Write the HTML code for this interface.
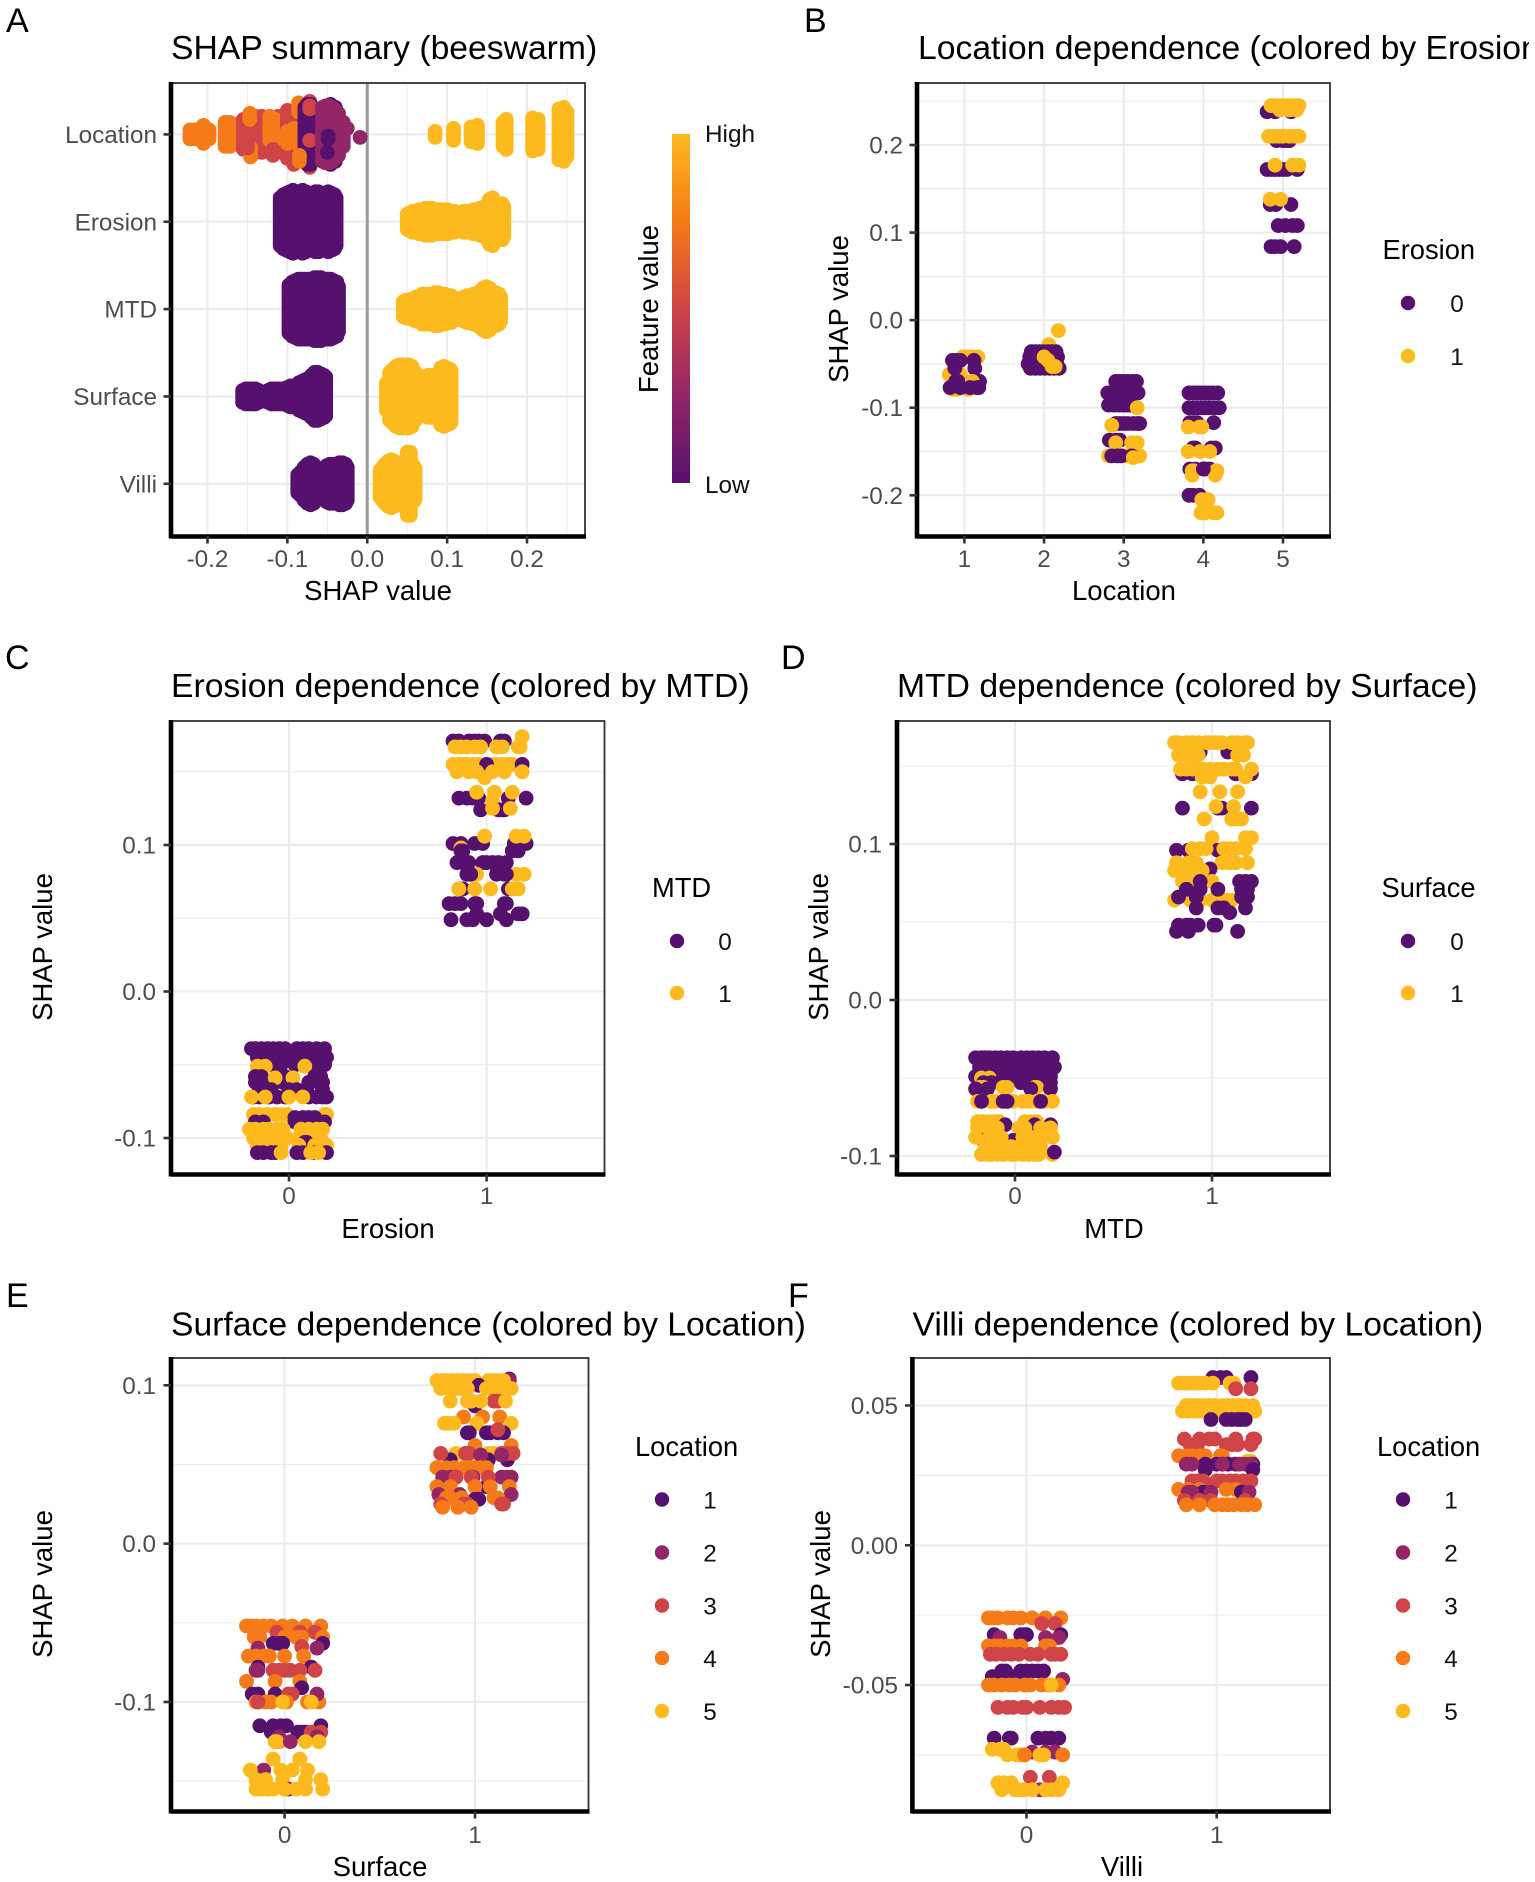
<!DOCTYPE html>
<html lang="en">
<head>
<meta charset="utf-8">
<title>SHAP summary and dependence plots</title>
<style>
html,body{margin:0;padding:0;background:#fff;}
#figure{display:block;width:1535px;height:1882px;overflow:hidden;font-family:"Liberation Sans",Arial,sans-serif;}
.letter{font-size:34px;fill:#000;}
.ptitle{font-size:33.7px;fill:#000;}
.atitle{font-size:27.5px;fill:#000;}
.ltitle{font-size:27.3px;fill:#000;}
.llabel{font-size:24.3px;fill:#111;text-anchor:middle;}
.ticklabel{font-size:24.3px;fill:#4D4D4D;}
</style>
</head>
<body>
<svg id="figure" xmlns="http://www.w3.org/2000/svg" width="1535" height="1882" viewBox="0 0 1535 1882">
  <defs>
    <linearGradient id="feature-gradient" x1="0" y1="1" x2="0" y2="0">
      <stop offset="0" stop-color="#56106E"/>
      <stop offset="0.25" stop-color="#932667"/>
      <stop offset="0.5" stop-color="#CF4446"/>
      <stop offset="0.75" stop-color="#F57A18"/>
      <stop offset="1" stop-color="#FCBA1F"/>
    </linearGradient>
    <clipPath id="title-b-clip"><rect x="900" y="0" width="629" height="80"/></clipPath>
  </defs>
  <rect x="0" y="0" width="1535" height="1882" fill="#fff"/>

  <g id="panel-a"></g>
  <g id="panel-b"></g>
  <g id="panel-c"></g>
  <g id="panel-d"></g>
  <g id="panel-e"></g>
  <g id="panel-f"></g>

  <text class="letter" x="6" y="32">A</text>
  <text class="letter" x="804" y="32">B</text>
  <text class="letter" x="5" y="669">C</text>
  <text class="letter" x="781" y="669">D</text>
  <text class="letter" x="6" y="1307">E</text>
  <text class="letter" x="788" y="1307">F</text>

  <text class="ptitle" x="171" y="59">SHAP summary (beeswarm)</text>
  <text class="ptitle" x="918" y="59" clip-path="url(#title-b-clip)">Location dependence (colored by Erosion)</text>
  <text class="ptitle" x="171" y="697">Erosion dependence (colored by MTD)</text>
  <text class="ptitle" x="897" y="697">MTD dependence (colored by Surface)</text>
  <text class="ptitle" x="171" y="1335.5">Surface dependence (colored by Location)</text>
  <text class="ptitle" x="912.5" y="1335.5">Villi dependence (colored by Location)</text>

  <text class="atitle" x="378" y="600" text-anchor="middle">SHAP value</text>
  <text class="atitle" x="1124" y="600" text-anchor="middle">Location</text>
  <text class="atitle" x="388" y="1238" text-anchor="middle">Erosion</text>
  <text class="atitle" x="1114" y="1238" text-anchor="middle">MTD</text>
  <text class="atitle" x="380" y="1876" text-anchor="middle">Surface</text>
  <text class="atitle" x="1122" y="1876" text-anchor="middle">Villi</text>

  <text class="atitle" transform="translate(848,309) rotate(-90)" text-anchor="middle">SHAP value</text>
  <text class="atitle" transform="translate(52,947) rotate(-90)" text-anchor="middle">SHAP value</text>
  <text class="atitle" transform="translate(828,947) rotate(-90)" text-anchor="middle">SHAP value</text>
  <text class="atitle" transform="translate(52,1584) rotate(-90)" text-anchor="middle">SHAP value</text>
  <text class="atitle" transform="translate(830,1584) rotate(-90)" text-anchor="middle">SHAP value</text>

  <g>
    <text class="atitle" transform="translate(658,309) rotate(-90)" text-anchor="middle">Feature value</text>
    <rect x="672" y="134" width="18" height="349" fill="url(#feature-gradient)"/>
    <text class="llabel" x="705" y="142" style="text-anchor:start">High</text>
    <text class="llabel" x="705" y="493" style="text-anchor:start">Low</text>
  </g>

  <g>
    <text class="ltitle" x="1382.5" y="259">Erosion</text>
    <circle cx="1408" cy="303" r="7.2" fill="#56106E"/>
    <text class="llabel" x="1457" y="312">0</text>
    <circle cx="1408" cy="356" r="7.2" fill="#FCBA1F"/>
    <text class="llabel" x="1457" y="365">1</text>
  </g>
  <g>
    <text class="ltitle" x="652" y="897">MTD</text>
    <circle cx="677" cy="941" r="7.2" fill="#56106E"/>
    <text class="llabel" x="725" y="950">0</text>
    <circle cx="677" cy="993" r="7.2" fill="#FCBA1F"/>
    <text class="llabel" x="725" y="1002">1</text>
  </g>
  <g>
    <text class="ltitle" x="1381.5" y="897">Surface</text>
    <circle cx="1408" cy="941" r="7.2" fill="#56106E"/>
    <text class="llabel" x="1457" y="950">0</text>
    <circle cx="1408" cy="993" r="7.2" fill="#FCBA1F"/>
    <text class="llabel" x="1457" y="1002">1</text>
  </g>
  <g>
    <text class="ltitle" x="635" y="1456">Location</text>
    <circle cx="662" cy="1499.5" r="7.2" fill="#56106E"/>
    <text class="llabel" x="710" y="1508.5">1</text>
    <circle cx="662" cy="1552.5" r="7.2" fill="#932667"/>
    <text class="llabel" x="710" y="1561.5">2</text>
    <circle cx="662" cy="1605.5" r="7.2" fill="#CF4446"/>
    <text class="llabel" x="710" y="1614.5">3</text>
    <circle cx="662" cy="1658" r="7.2" fill="#F57A18"/>
    <text class="llabel" x="710" y="1667">4</text>
    <circle cx="662" cy="1711" r="7.2" fill="#FCBA1F"/>
    <text class="llabel" x="710" y="1720">5</text>
  </g>
  <g>
    <text class="ltitle" x="1377" y="1456">Location</text>
    <circle cx="1403" cy="1499.5" r="7.2" fill="#56106E"/>
    <text class="llabel" x="1451" y="1508.5">1</text>
    <circle cx="1403" cy="1552.5" r="7.2" fill="#932667"/>
    <text class="llabel" x="1451" y="1561.5">2</text>
    <circle cx="1403" cy="1605.5" r="7.2" fill="#CF4446"/>
    <text class="llabel" x="1451" y="1614.5">3</text>
    <circle cx="1403" cy="1658" r="7.2" fill="#F57A18"/>
    <text class="llabel" x="1451" y="1667">4</text>
    <circle cx="1403" cy="1711" r="7.2" fill="#FCBA1F"/>
    <text class="llabel" x="1451" y="1720">5</text>
  </g>
</svg>

<script>
/* ---------- Panel A data ---------- */
const beeswarmFeatures = ['Location','Erosion','MTD','Surface','Villi'];
const beeswarmXTicks = [-0.2,-0.1,0,0.1,0.2];
const beeswarmXLabels = ['-0.2','-0.1','0.0','0.1','0.2'];
const beeswarmXMinor = [-0.15,-0.05,0.05,0.15,0.25];

/* each entry: SHAP value, number of stacked points, location level, stack shift */
const locationSwarm = [
 [-0.222,4,4,0],[-0.215,4,4,0],[-0.205,7,4,0],[-0.198,4,4,0],
 [-0.178,9,4,0],[-0.172,9,4,0],[-0.168,8,4,0],
 [-0.155,11,3,0],[-0.148,11,3,0],[-0.14,13,3,0],[-0.132,13,3,0],
 [-0.147,3,4,-6],[-0.146,4,4,6],[-0.15,2,3,4],
 [-0.122,13,3,0],[-0.112,13,3,0],[-0.122,9,4,-2],[-0.115,9,4,-1],[-0.118,3,3,6],
 [-0.1,17,3,0],[-0.092,15,3,3],[-0.1,5,4,1],[-0.092,5,4,0],
 [-0.086,4,4,-9],[-0.086,4,4,2],
 [-0.072,1,3,-11],[-0.072,1,3,11],
 [-0.078,19,1,0],[-0.075,21,1,0],[-0.071,21,1,0],
 [-0.072,2,3,-9],[-0.072,1,3,2],[-0.085,3,4,8],
 [-0.046,21,1,0],[-0.04,19,1,0],
 [-0.056,19,2,0],[-0.052,20,2,0],[-0.048,20,2,0],[-0.044,19,2,0],[-0.04,17,2,0],[-0.036,15,2,0],[-0.03,9,2,0],
 [-0.049,2,1,1],[-0.05,1,1,6],[-0.025,1,2,-2],[-0.009,1,2,1],
 [0.085,3,5,0],[0.108,5,5,0],[0.13,6,5,0],[0.138,7,5,0],[0.174,11,5,0],[0.17,9,5,0],
 [0.207,12,5,0],[0.214,11,5,0],[0.24,18,5,0],[0.246,19,5,0],[0.25,16,5,0]
];
const erosionLowValues = [-0.109,-0.105,-0.101,-0.097,-0.093,-0.089,-0.085,-0.081,-0.077,-0.073,-0.069,-0.065,-0.061,-0.057,-0.053,-0.049,-0.045,-0.041,-0.039];
const erosionLowCounts = [17,19,20,21,22,21,21,22,21,20,20,21,21,20,20,21,20,19,17];
const erosionHighValues = [0.05,0.053,0.057,0.061,0.065,0.069,0.073,0.077,0.081,0.085,0.089,0.093,0.097,0.101,0.105,0.109,0.113,0.117,0.121,0.125,0.129,0.133,0.137,0.141,0.145,0.149,0.153,0.157,0.161,0.165,0.169,0.171];
const erosionHighCounts = [6,7,8,8,9,9,10,10,10,9,9,9,9,9,8,8,6,7,8,8,8,9,9,10,10,12,16,17,14,13,13,11];
const mtdLowValues = [-0.098,-0.094,-0.09,-0.086,-0.082,-0.078,-0.074,-0.07,-0.066,-0.062,-0.058,-0.054,-0.05,-0.046,-0.042,-0.038,-0.036];
const mtdLowCounts = [17,19,20,21,21,21,21,21,22,22,22,21,21,21,20,19,16];
const mtdHighValues = [0.045,0.049,0.053,0.057,0.061,0.065,0.069,0.073,0.077,0.081,0.085,0.089,0.093,0.097,0.101,0.105,0.109,0.113,0.117,0.121,0.125,0.129,0.133,0.137,0.141,0.145,0.149,0.153,0.157,0.161,0.165,0.167];
const mtdHighCounts = [6,7,7,8,9,9,11,11,11,11,12,12,11,11,10,10,8,8,8,9,10,10,11,11,13,15,16,15,12,12,11,9];
const surfaceLowValues = [-0.156,-0.152,-0.148,-0.144,-0.14,-0.136,-0.13,-0.124,-0.12,-0.116,-0.112,-0.108,-0.104,-0.1,-0.096,-0.09,-0.086,-0.082,-0.078,-0.074,-0.07,-0.066,-0.062,-0.058,-0.054,-0.052];
const surfaceLowCounts = [5,6,6,6,6,5,4,5,6,6,6,6,6,7,8,8,10,11,12,13,15,17,17,16,15,14];
const surfaceHighValues = [0.024,0.028,0.032,0.036,0.04,0.044,0.048,0.052,0.056,0.06,0.064,0.068,0.072,0.076,0.08,0.084,0.088,0.092,0.096,0.1,0.104,0.105];
const surfaceHighCounts = [10,17,19,21,22,22,22,22,21,17,14,14,14,15,15,14,16,20,21,20,19,18];
const villiLowValues = [-0.087,-0.083,-0.079,-0.075,-0.071,-0.067,-0.063,-0.059,-0.055,-0.051,-0.047,-0.043,-0.039,-0.035,-0.031,-0.027,-0.025];
const villiLowCounts = [7,9,12,14,15,14,9,7,8,13,14,14,14,15,15,14,12];
const villiHighValues = [0.016,0.019,0.022,0.026,0.03,0.034,0.038,0.042,0.046,0.05,0.054,0.058,0.06];
const villiHighCounts = [10,12,14,16,17,16,14,14,16,22,22,13,11];

/* ---------- Panel B data: each row is SHAP value, colour level (0/1), horizontal jitter values ---------- */
const locationTicks = [1,2,3,4,5];
const locationYTicks = [-0.2,-0.1,0,0.1,0.2];
const locationYLabels = ['-0.2','-0.1','0.0','0.1','0.2'];
const locationYMinor = [-0.15,-0.05,0.05,0.15,0.25];
const loc1Rows = [
 [-0.042,1,[-0.02,0.03,0.09,0.17]],[-0.046,0,[-0.15,-0.1,-0.05,0.12]],[-0.062,1,[-0.19,-0.1,-0.05]],
 [-0.055,0,[0.13,-0.12]],[-0.07,0,[-0.11,-0.08,0.1,0.16,0.19]],[-0.07,1,[0.1]],
 [-0.079,1,[-0.14,-0.09,0.05]],[-0.077,0,[-0.18,-0.05,0.07,0.16,0.18]]
];
const loc2Rows = [
 [-0.012,1,[0.18]],[-0.028,1,[0.06]],
 [-0.036,0,[-0.16,-0.11,-0.06,-0.01,0.05,0.1,0.15]],[-0.042,0,[-0.18,-0.12,-0.06,0,0.06,0.12,0.17]],
 [-0.05,0,[-0.2,-0.14,-0.08,-0.02,0.04,0.1,0.16]],[-0.055,0,[-0.17,-0.11,-0.05,0.01,0.07,0.13,0.19]],
 [-0.042,1,[0]],[-0.046,1,[0.05]],[-0.053,1,[0.1,0.14]]
];
const loc3Rows = [
 [-0.07,0,[-0.1,-0.05,0,0.05,0.11,0.16]],[-0.083,0,[-0.2,-0.15,-0.08,-0.02,0.03,0.08,0.13,0.18]],
 [-0.097,0,[-0.19,-0.12,-0.06,0,0.05,0.1]],[-0.1,1,[0.17]],
 [-0.118,0,[-0.1,-0.05,0,0.05,0.12,0.17,0.2]],[-0.12,1,[-0.15]],
 [-0.137,0,[-0.18,-0.1,-0.05]],[-0.14,1,[-0.1,0.1,0.17]],
 [-0.155,1,[-0.19,-0.17,0.12,0.2,0.02]],[-0.155,0,[-0.15,-0.08,-0.03,0.1]],[-0.157,1,[0.12]]
];
const loc4Rows = [
 [-0.083,0,[-0.18,-0.13,-0.08,-0.03,0.02,0.07,0.12,0.18]],[-0.1,0,[-0.18,-0.12,-0.07,-0.02,0.03,0.08,0.14,0.2]],
 [-0.117,0,[-0.17,-0.13,-0.08,0.13]],[-0.122,1,[-0.19,-0.05,-0.02]],
 [-0.146,0,[-0.13,-0.1,0.1,0.15]],[-0.15,1,[-0.19,-0.04,0.08]],
 [-0.17,0,[-0.17,-0.1,0,0.03,0.08]],[-0.172,1,[-0.14,-0.12,0.17,0.16]],[-0.177,1,[0.15,-0.14]],[-0.17,0,[0]],
 [-0.2,0,[-0.18,-0.13,-0.05]],[-0.205,1,[0.05,0.06,-0.02]],[-0.22,1,[-0.03,0.02,0.13,0.17]]
];
const loc5Rows = [
 [0.084,0,[-0.15,-0.1,-0.03,0.14]],[0.108,0,[-0.06,0.03,0.12,0.18]],[0.132,0,[-0.16,-0.09,0.1]],
 [0.138,1,[-0.16,-0.03]],[0.172,0,[-0.2,-0.15,-0.1,-0.05,0,0.05,0.18]],[0.177,1,[-0.1,0.12,0.2]],
 [0.205,0,[-0.08,0,0.05,0.08]],[0.21,1,[-0.18,-0.12,-0.05,0,0.08,0.14,0.18,0.2]],
 [0.238,0,[-0.2,-0.1,0.1]],[0.245,1,[-0.15,-0.1,-0.05,0,0.05,0.1,0.15,0.2]],[0.24,1,[0.08,0.17,-0.04]]
];

/* ---------- Panel C data ---------- */
const binaryTicks = [0,1];
const erosionYTicks = [-0.1,0,0.1];
const erosionYLabels = ['-0.1','0.0','0.1'];
const erosionYMinor = [-0.05,0.05,0.15];
const erosion0Rows = [
 [-0.039,0,[-0.19,-0.17,-0.14,-0.11,-0.08,-0.05,-0.02,0.04,0.07,0.1,0.14,0.18]],
 [-0.045,0,[-0.16,-0.12,-0.09,-0.06,-0.02,0.02,0.06,0.1,0.13,0.17,0.19]],
 [-0.05,0,[-0.1,-0.07,-0.04,0.03,0.09,0.12,0.15,0.18]],[-0.051,1,[-0.16,-0.12,0.08]],
 [-0.058,0,[-0.17,-0.14,-0.05,-0.02,0.13,0.16]],[-0.062,0,[-0.17,-0.13,-0.09,-0.03,0.1,0.15,0.17]],
 [-0.059,1,[-0.07,0.02]],[-0.067,0,[-0.15,-0.12,-0.09,0,0.04,0.09,0.17]],
 [-0.072,0,[-0.18,-0.15,-0.1,-0.06,-0.02,0.1,0.14,0.19,0.17]],[-0.072,1,[-0.19,-0.12,0,0.07]],
 [-0.084,1,[-0.18,-0.15,-0.11,-0.07,-0.04,-0.01,0.18,0.19]],[-0.086,0,[0.03,0.07,0.1,0.13]],
 [-0.089,0,[-0.17,-0.13,0.03,0.06,0.1,0.14,0.18]],
 [-0.094,1,[-0.2,-0.17,-0.13,-0.1,-0.06,-0.03,0.06,0.1,0.14,0.17]],
 [-0.1,1,[-0.18,-0.15,-0.12,-0.08,-0.04,-0.01,0.05,0.09,0.12,0.16]],[-0.103,0,[0.08,0.09]],
 [-0.105,1,[-0.16,-0.1,-0.06,-0.04,0.05,0.13,0.18,0.19]],
 [-0.11,0,[-0.16,-0.13,-0.09,-0.07,0.04,0.07,0.12,0.19]],[-0.11,1,[-0.04,0.11,0.15]]
];
const erosion1Rows = [
 [0.171,0,[-0.17,-0.14,-0.09,-0.06,-0.04,-0.01,0.07,0.09]],[0.174,1,[0.18]],
 [0.167,1,[-0.16,-0.13,-0.1,-0.06,-0.03,0.05,0.08,0.16,0.17]],
 [0.155,1,[-0.17,-0.14,-0.12,-0.1,-0.07,-0.04,0.03,0.05,0.08,0.11,0.13,0.18]],[0.155,0,[0,0.18]],
 [0.15,1,[-0.15,-0.09,-0.05,0.03,0.09,0.18]],[0.146,1,[-0.01]],
 [0.132,0,[-0.14,-0.1,-0.07,-0.04,0.11,0.2]],[0.136,1,[-0.05,0.04,0.13]],[0.13,1,[0.03]],
 [0.124,0,[-0.03,0.06,0.08,0.09]],[0.125,1,[0.03,0.12]],
 [0.101,0,[-0.17,-0.13,-0.06,-0.02,0.14,0.17,0.2]],[0.106,1,[-0.01,0.15,0.19]],[0.098,1,[-0.13]],
 [0.096,0,[-0.13,-0.12,0.13,0.16]],[0.088,0,[-0.15,-0.12,-0.09,-0.02,0,0.03,0.06,0.1]],
 [0.08,1,[-0.05,0.15,0.19]],[0.08,0,[-0.1,-0.08,0.05,0.09,0.1]],
 [0.07,0,[-0.14,-0.12,0.11]],[0.07,1,[-0.14,-0.06,0.02,0.13,0.16]],
 [0.06,0,[-0.19,-0.16,-0.13,-0.06,-0.05,0.09,0.1]],[0.053,0,[-0.05,0.07,0.16,0.18]],
 [0.049,0,[-0.18,-0.1,-0.07,0,0.1]]
];

/* ---------- Panel D data ---------- */
const mtdYTicks = [-0.1,0,0.1];
const mtdYLabels = ['-0.1','0.0','0.1'];
const mtdYMinor = [-0.05,0.05,0.15];
const mtd0Rows = [
 [-0.037,0,[-0.2,-0.17,-0.15,-0.13,-0.1,-0.07,-0.04,-0.01,0.03,0.06,0.09,0.12,0.15,0.19]],
 [-0.043,0,[-0.18,-0.15,-0.12,-0.09,-0.06,-0.03,0,0.04,0.07,0.1,0.13,0.16,0.2]],
 [-0.049,0,[-0.2,-0.17,-0.14,-0.1,-0.07,-0.04,-0.01,0.02,0.08,0.12,0.16,0.18]],[-0.05,1,[-0.17,-0.13]],
 [-0.053,0,[-0.16,-0.12,-0.08,-0.05,0.18,0.16,0.03]],
 [-0.056,1,[-0.18,-0.16,-0.06,-0.04,0.1,0.11]],[-0.057,0,[-0.2,-0.14,0.08,0.18]],
 [-0.065,1,[-0.19,-0.12,-0.1,-0.04,-0.01,0.04,0.07,0.11,0.15,0.19]],[-0.065,0,[-0.17,-0.06,-0.04,0.13]],
 [-0.078,1,[-0.19,-0.16,-0.13,-0.1,-0.08,0.05,0.08,0.11]],[-0.08,0,[-0.05,0.18,0.1]],
 [-0.082,1,[-0.19,-0.16,-0.12,-0.09,0.02,0.05,0.13,0.18]],[-0.09,0,[-0.16,-0.01]],
 [-0.088,1,[-0.2,-0.13,-0.1,-0.07,0.04,0.08,0.11,0.14,0.19]],
 [-0.094,1,[-0.15,-0.12,-0.08,-0.02,0.02,0.06,0.1,0.13]],
 [-0.099,1,[-0.17,-0.14,-0.12,-0.09,-0.06,-0.02,0,0.04,0.07,0.1,0.12,0.19]],[-0.0975,0,[0.2]]
];
const mtd1Rows = [
 [0.159,0,[-0.06,0.08]],[0.165,1,[-0.19,-0.17,-0.13,-0.1,-0.07,-0.03,-0.01,0.02,0.05,0.1,0.13,0.18,0.17]],
 [0.157,1,[-0.17,-0.13,-0.1,-0.07,0.13,0.16]],[0.145,0,[-0.15,-0.1,-0.04,0.12,0.2]],
 [0.148,1,[-0.16,-0.13,-0.1,-0.07,-0.04,-0.01,0.03,0.06,0.1,0.12,0.2]],[0.143,1,[-0.05,-0.01,0.17]],
 [0.1335,1,[-0.06,0.04,0.13]],[0.123,0,[-0.15,0.03,0.05,0.2]],[0.124,1,[0.02,0.11]],
 [0.116,1,[-0.04,0.1,0.13,0.15]],[0.104,1,[0,0.17,0.2]],
 [0.096,0,[-0.18,-0.12,0.03]],[0.097,1,[-0.1,-0.06,-0.03,0.06,0.09,0.12,0.17]],
 [0.088,1,[-0.18,-0.12,-0.08,0.05,0.09,0.12,0.18]],[0.084,0,[-0.01]],
 [0.083,1,[-0.19,-0.16,-0.12,-0.09,-0.05]],[0.076,1,[-0.15,-0.12,0]],[0.076,0,[-0.06,0.14,0.17,0.2]],
 [0.064,1,[-0.19,-0.11,-0.06,0,0.07,0.1]],[0.071,0,[-0.13,-0.06,0.03,0.15,0.18]],
 [0.066,0,[-0.17,-0.08,0.15,0.18]],[0.059,0,[-0.08,0.03,0.06,0.17]],[0.056,0,[0.09]],
 [0.048,0,[-0.17,-0.13,-0.11,-0.07,0.01,0.02]],[0.044,0,[-0.18,-0.12,0.13]]
];

/* ---------- Panel E data: colour level is Location 1-5 ---------- */
const surfaceYTicks = [-0.1,0,0.1];
const surfaceYLabels = ['-0.1','0.0','0.1'];
const surfaceYMinor = [-0.15,-0.05,0.05];
const surface0Rows = [
 [-0.052,4,[-0.2,-0.18,-0.15,-0.11,-0.07,-0.01,0.04,0.11,0.19]],[-0.056,3,[-0.04,0.08,0.16]],
 [-0.059,4,[-0.16,-0.13,0,0.06,0.09,0.2]],[-0.063,1,[-0.06,-0.03,-0.01,0.2]],
 [-0.066,2,[-0.14,0.17]],[-0.065,3,[0.09]],[-0.071,4,[-0.19,-0.15,-0.11,-0.08,0,0.1]],
 [-0.078,1,[0.14,-0.14]],[-0.08,3,[-0.06,-0.03,0,0.03,0.08,0.16]],[-0.08,2,[-0.15,-0.14]],
 [-0.087,4,[-0.2,-0.05,0.08]],[-0.091,1,[0.09]],[-0.095,1,[-0.17,-0.14,-0.05]],[-0.095,3,[0.02,0.04]],
 [-0.1,4,[-0.15,-0.1,-0.07,0.01,0.12,0.18]],[-0.095,2,[0.17]],[-0.1,3,[-0.14]],[-0.1,5,[-0.01,0.14]],
 [-0.115,1,[-0.13,-0.06,-0.02,0.01,0.19]],[-0.119,1,[-0.07,0.07,0.09,0.11]],[-0.119,3,[0.14,0.19]],
 [-0.125,4,[-0.03]],[-0.122,2,[0.17,-0.03]],[-0.125,5,[-0.05,-0.04,0.11,0.18]],[-0.125,2,[0.03]],
 [-0.136,5,[-0.06,0.08]],[-0.143,2,[-0.11]],[-0.143,5,[-0.18,-0.02,0.04,0.12]],
 [-0.149,5,[-0.15,-0.1,-0.01,0.11,0.19]],[-0.155,2,[0.02]],[-0.155,5,[-0.15,-0.12,-0.09,-0.06,0,0.06,0.11,0.2]]
];
const surface1Rows = [
 [0.104,1,[0.18]],[0.103,2,[0.18]],
 [0.103,5,[-0.2,-0.17,-0.15,-0.12,-0.09,-0.06,-0.03,0,0.07,0.1,0.12,0.15]],[0.1,1,[0.02]],
 [0.098,5,[-0.18,-0.14,-0.1,-0.07,-0.04,0.06,0.09,0.13,0.19]],[0.09,3,[0.1,0.12]],
 [0.087,1,[0]],[0.09,5,[-0.13,-0.04,-0.02,0.03,0.16]],[0.08,4,[-0.06,0.04,0.13]],
 [0.076,5,[-0.16,-0.14,-0.11,0.01,0.19]],[0.07,1,[-0.04,-0.03,0.06,0.08,0.12,0.15]],[0.072,3,[0.12]],
 [0.062,4,[0,0.19]],[0.057,5,[-0.1,0.07,0.1]],[0.053,1,[-0.13,0.07,0.17]],
 [0.057,3,[-0.18,-0.05,-0.03,0.14,0.17,0.2]],[0.056,2,[0.03,0.14]],
 [0.048,4,[-0.2,-0.15,-0.11,-0.06,-0.03,0,0.03,0.06]],[0.036,1,[0.06]],
 [0.042,2,[-0.17,-0.13,-0.1,-0.01,0.14,0.17,0.19]],[0.042,3,[-0.1,-0.02,0.07]],
 [0.036,4,[-0.2,-0.13,0,0.08,0.18]],[0.031,2,[-0.19,-0.08,0.19]],[0.028,1,[0,0.02]],
 [0.029,4,[-0.15,-0.13,-0.07,0.1,0.12]],[0.025,3,[-0.18,-0.06,-0.04,0.14,0.15]],[0.023,4,[-0.17,-0.09,-0.02]]
];

/* ---------- Panel F data ---------- */
const villiYTicks = [-0.05,0,0.05];
const villiYLabels = ['-0.05','0.00','0.05'];
const villiYMinor = [-0.075,-0.025,0.025];
const villi0Rows = [
 [-0.026,4,[-0.2,-0.18,-0.15,-0.1,-0.07,-0.03,0.03,0.1,0.18]],[-0.028,3,[0.08,0.15]],
 [-0.032,1,[-0.17,-0.03,-0.01,0,0.18]],[-0.033,2,[-0.14,0.1,0.17]],
 [-0.036,4,[-0.2,-0.17,-0.14,-0.1,-0.07,-0.03,0.1,0.12]],
 [-0.039,3,[-0.19,-0.16,-0.12,-0.08,-0.04,0.02,0.06,0.13,0.15,0.18]],
 [-0.045,1,[-0.13,-0.11,-0.03,0,0.03,0.06,0.09]],[-0.047,1,[-0.18,-0.15,-0.06]],[-0.048,2,[0.19]],
 [-0.05,4,[-0.2,-0.17,-0.13,-0.09,-0.06,-0.01,0.02,0.08,0.12,0.17]],[-0.05,5,[0.13]],
 [-0.058,3,[-0.15,-0.1,-0.07,-0.02,0,0.07,0.13,0.17,0.2]],
 [-0.069,1,[-0.17,-0.09,-0.08,0.06,0.1,0.13,0.17]],[-0.074,2,[0.03,0.1,0.15]],
 [-0.073,5,[-0.18,-0.14,-0.12]],[-0.075,5,[-0.1,-0.05,-0.03,0.07,0.09]],[-0.075,4,[-0.01,0.19]],
 [-0.083,3,[0.02,0.12]],[-0.0875,2,[0.07]],[-0.085,5,[-0.15,-0.12,-0.08,0.19]],
 [-0.0875,5,[-0.13,-0.06,-0.03,-0.01,0.03,0.1,0.13,0.17]]
];
const villi1Rows = [
 [0.06,1,[-0.02,0.02,0.05,0.18]],[0.058,5,[-0.2,-0.17,-0.15,-0.12,-0.09,-0.06,-0.02,0.07,0.09]],
 [0.056,3,[0.1,0.18]],[0.05,5,[-0.16,-0.13,-0.1,-0.07,-0.04,-0.01,0.03,0.06,0.09,0.12,0.15,0.19]],
 [0.048,5,[-0.18,-0.15,-0.12,-0.09,-0.05,-0.02,0.02,0.05,0.1,0.13,0.17,0.2]],
 [0.045,1,[-0.03,0.05,0.08,0.11,0.13,0.15]],[0.038,3,[-0.17,-0.09,-0.04,-0.01,0.1,0.2,0.19]],
 [0.036,3,[-0.14,-0.1,0.05,0.08,0.11,0.18]],[0.032,4,[-0.2,-0.16,-0.13,-0.09,-0.06,0.02,0.03]],
 [0.03,5,[0.16,0.18]],[0.029,1,[-0.06,0,0.03,0.06,0.1,0.19]],[0.029,2,[-0.16,-0.13,0.03,0.12,0.15,0.18]],
 [0.027,1,[-0.06,0.19]],[0.023,3,[-0.13,-0.1,-0.07,0,0.03,0.07,0.1,0.14,0.18]],
 [0.02,4,[-0.2,-0.15,-0.09,0.05,0.1]],[0.019,1,[-0.07,0.13]],[0.019,2,[-0.15,-0.13,-0.03,0.17]],
 [0.016,3,[-0.17,-0.09,-0.03,0.15]],[0.0145,4,[-0.16,-0.09,-0.01,0.03,0.06,0.09,0.13,0.16,0.2]]
];

/* ---------- Drawing ---------- */
const SVG_NS = 'http://www.w3.org/2000/svg';
const POINT_RADIUS = 7.4;
const STACK_STEP = 3;
const locationColors = {1:'#56106E',2:'#932667',3:'#CF4446',4:'#F57A18',5:'#FCBA1F'};
const binaryColors = {0:'#56106E',1:'#FCBA1F'};

function linearScale(v0, p0, v1, p1) {
  const k = (p1 - p0) / (v1 - v0);
  return function (v) { return p0 + (v - v0) * k; };
}
function make(tag, attrs, parent) {
  const el = document.createElementNS(SVG_NS, tag);
  for (const key in attrs) { el.setAttribute(key, attrs[key]); }
  parent.appendChild(el);
  return el;
}
function gridLine(g, x1, y1, x2, y2, width) {
  const line = make('line', {x1:x1, y1:y1, x2:x2, y2:y2, stroke:'#EBEBEB', 'stroke-width':width}, g);
  
  
}
function drawFrame(g, box) {
  const border = make('rect', {x:box.left, y:box.top, width:box.right-box.left, height:box.bottom-box.top, fill:'none', stroke:'#333333', 'stroke-width':1.8}, g);
  
  
  const yAxis = make('line', {x1:box.left, y1:box.top-1, x2:box.left, y2:box.bottom+2.5, stroke:'#000', 'stroke-width':4.6}, g);
  
  
  const xAxis = make('line', {x1:box.left, y1:box.bottom+0.5, x2:box.right+1, y2:box.bottom+0.5, stroke:'#000', 'stroke-width':4.6}, g);
  
  
}
function drawXTick(g, box, px, label) {
  const tick = make('line', {x1:px, y1:box.bottom, x2:px, y2:box.bottom+7.5, stroke:'#333', 'stroke-width':2.6}, g);
  
  
  const text = make('text', {x:px, y:box.tickBaseline, 'text-anchor':'middle', 'class':'ticklabel'}, g);
  text.textContent = label;
  
  
}
function drawYTick(g, box, py, label) {
  const tick = make('line', {x1:box.left-7.5, y1:py, x2:box.left, y2:py, stroke:'#333', 'stroke-width':2.6}, g);
  
  
  const text = make('text', {x:box.labelRight, y:py+8.5, 'text-anchor':'end', 'class':'ticklabel'}, g);
  text.textContent = label;
  
  
}
function drawPoint(g, px, py, color) {
  const dot = make('circle', {cx:px.toFixed(2), cy:py.toFixed(2), r:POINT_RADIUS, fill:color}, g);
  
  
}

function drawDependence(opts) {
  const g = document.getElementById(opts.id);
  const box = opts.box;
  const xScale = linearScale(opts.xRef[0], opts.xRef[1], opts.xRef[2], opts.xRef[3]);
  const yScale = linearScale(opts.yRef[0], opts.yRef[1], opts.yRef[2], opts.yRef[3]);
  opts.yMinor.forEach(function (v) { gridLine(g, box.left, yScale(v), box.right, yScale(v), 1); });
  opts.yTicks.forEach(function (v) { gridLine(g, box.left, yScale(v), box.right, yScale(v), 2); });
  opts.xTicks.forEach(function (v) { gridLine(g, xScale(v), box.top, xScale(v), box.bottom, 2); });
  opts.groups.forEach(function (group) {
    group.rows.forEach(function (row) {
      row[2].forEach(function (jitter) {
        drawPoint(g, xScale(group.category + jitter), yScale(row[0]), opts.colors[row[1]]);
      });
    });
  });
  drawFrame(g, box);
  opts.xTicks.forEach(function (v) { drawXTick(g, box, xScale(v), String(v)); });
  opts.yTicks.forEach(function (v, i) { drawYTick(g, box, yScale(v), opts.yLabels[i]); });
}

function drawSwarmColumn(g, px, cy, count, shift, color) {
  for (let i = 0; i < count; i++) {
    const offset = (i - (count - 1) / 2 + shift) * STACK_STEP;
    drawPoint(g, px, cy + offset, color);
  }
}

function drawBeeswarm() {
  const g = document.getElementById('panel-a');
  const box = {left:171, right:585, top:83, bottom:536, tickBaseline:567, labelRight:157};
  const xScale = linearScale(-0.2, 207.5, 0.2, 527);
  const rowScale = linearScale(0, 134.4, 4, 483.8);
  beeswarmXMinor.forEach(function (v) { gridLine(g, xScale(v), box.top, xScale(v), box.bottom, 1); });
  beeswarmXTicks.forEach(function (v) { gridLine(g, xScale(v), box.top, xScale(v), box.bottom, 2); });
  beeswarmFeatures.forEach(function (name, i) { gridLine(g, box.left, rowScale(i), box.right, rowScale(i), 2); });

  const zero = make('line', {x1:xScale(0), y1:box.top, x2:xScale(0), y2:box.bottom, stroke:'#999999', 'stroke-width':3}, g);
  
  

  locationSwarm.forEach(function (c) {
    drawSwarmColumn(g, xScale(c[0]), rowScale(0), c[1], c[3], locationColors[c[2]]);
  });
  const blocks = [
    [1, erosionLowValues, erosionLowCounts, 0],[1, erosionHighValues, erosionHighCounts, 1],
    [2, mtdLowValues, mtdLowCounts, 0],[2, mtdHighValues, mtdHighCounts, 1],
    [3, surfaceLowValues, surfaceLowCounts, 0],[3, surfaceHighValues, surfaceHighCounts, 1],
    [4, villiLowValues, villiLowCounts, 0],[4, villiHighValues, villiHighCounts, 1]
  ];
  blocks.forEach(function (b) {
    b[1].forEach(function (v, i) {
      drawSwarmColumn(g, xScale(v), rowScale(b[0]), b[2][i], 0, binaryColors[b[3]]);
    });
  });
  drawFrame(g, box);
  beeswarmXTicks.forEach(function (v, i) { drawXTick(g, box, xScale(v), beeswarmXLabels[i]); });
  beeswarmFeatures.forEach(function (name, i) { drawYTick(g, box, rowScale(i), name); });
}

drawBeeswarm();

drawDependence({
  id:'panel-b', colors:binaryColors,
  box:{left:917, right:1330, top:83, bottom:536, tickBaseline:567, labelRight:903},
  xRef:[1,964.4,5,1283], yRef:[-0.2,495.3,0.2,145],
  xTicks:locationTicks, yTicks:locationYTicks, yLabels:locationYLabels, yMinor:locationYMinor,
  groups:[{category:1,rows:loc1Rows},{category:2,rows:loc2Rows},{category:3,rows:loc3Rows},{category:4,rows:loc4Rows},{category:5,rows:loc5Rows}]
});
drawDependence({
  id:'panel-c', colors:binaryColors,
  box:{left:171, right:604.5, top:721, bottom:1174, tickBaseline:1204, labelRight:156},
  xRef:[0,289,1,486.6], yRef:[-0.1,1138,0.1,845],
  xTicks:binaryTicks, yTicks:erosionYTicks, yLabels:erosionYLabels, yMinor:erosionYMinor,
  groups:[{category:0,rows:erosion0Rows},{category:1,rows:erosion1Rows}]
});
drawDependence({
  id:'panel-d', colors:binaryColors,
  box:{left:897, right:1330, top:721, bottom:1174, tickBaseline:1204, labelRight:882},
  xRef:[0,1015,1,1212], yRef:[-0.1,1156,0.1,844],
  xTicks:binaryTicks, yTicks:mtdYTicks, yLabels:mtdYLabels, yMinor:mtdYMinor,
  groups:[{category:0,rows:mtd0Rows},{category:1,rows:mtd1Rows}]
});
drawDependence({
  id:'panel-e', colors:locationColors,
  box:{left:171, right:588.5, top:1358, bottom:1811, tickBaseline:1843, labelRight:156},
  xRef:[0,284.6,1,475], yRef:[-0.1,1702,0.1,1385.3],
  xTicks:binaryTicks, yTicks:surfaceYTicks, yLabels:surfaceYLabels, yMinor:surfaceYMinor,
  groups:[{category:0,rows:surface0Rows},{category:1,rows:surface1Rows}]
});
drawDependence({
  id:'panel-f', colors:locationColors,
  box:{left:912.4, right:1330, top:1358, bottom:1811, tickBaseline:1843, labelRight:898},
  xRef:[0,1026.5,1,1216.7], yRef:[-0.05,1685,0.05,1405.5],
  xTicks:binaryTicks, yTicks:villiYTicks, yLabels:villiYLabels, yMinor:villiYMinor,
  groups:[{category:0,rows:villi0Rows},{category:1,rows:villi1Rows}]
});
</script>
</body>
</html>
